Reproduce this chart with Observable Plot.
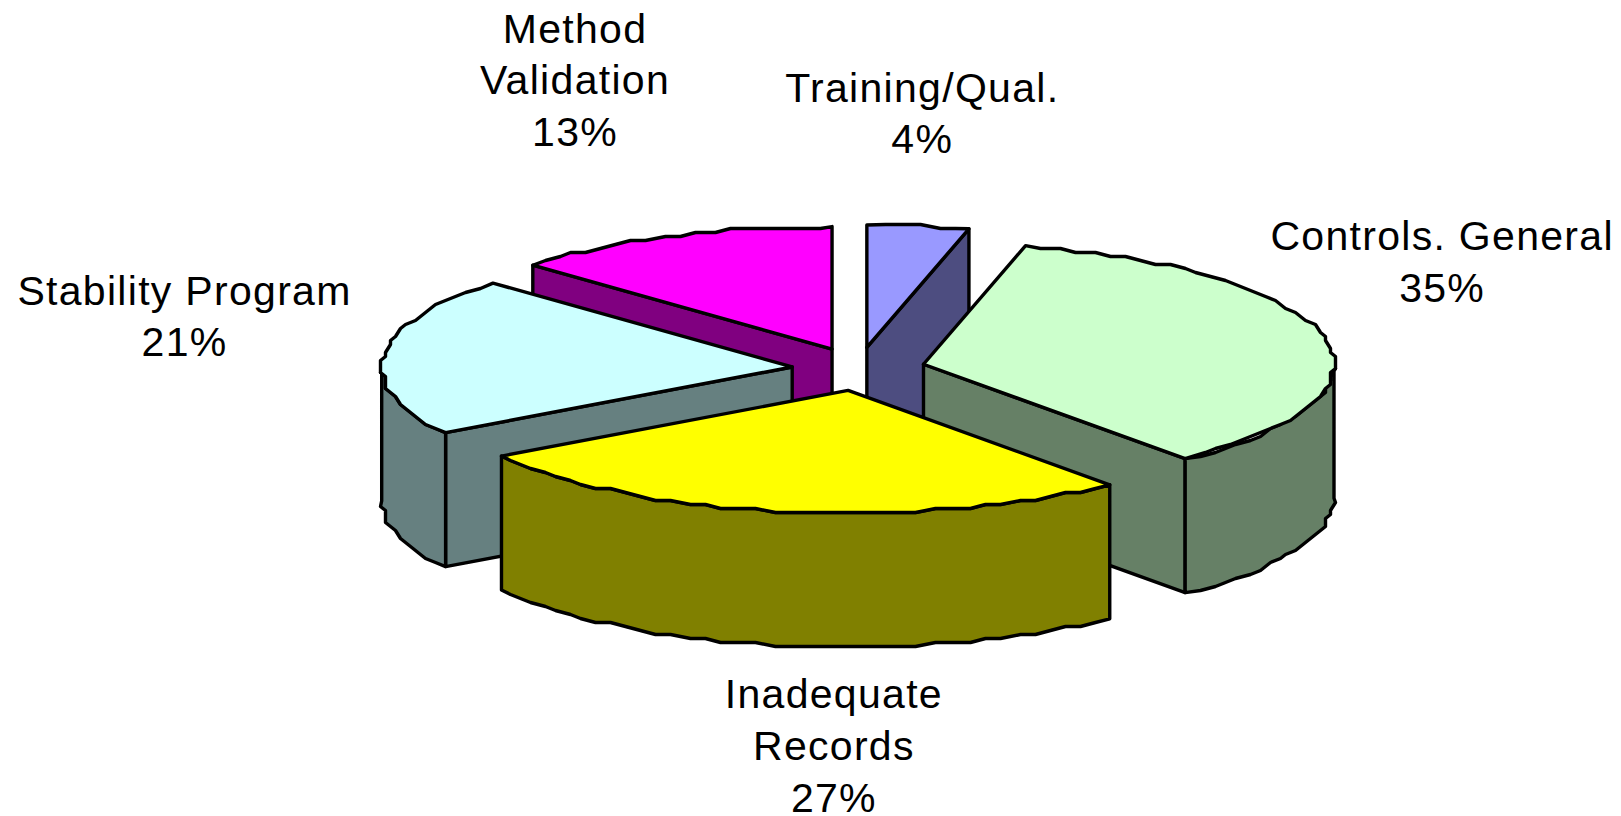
<!DOCTYPE html>
<html>
<head>
<meta charset="utf-8">
<style>
  html, body { margin: 0; padding: 0; background: #fff; }
  svg { display: block; }
  svg text { letter-spacing: 1.3px; }
</style>
<script src="https://cdn.jsdelivr.net/npm/d3@7"></script>
<script src="https://cdn.jsdelivr.net/npm/@observablehq/plot@0.6"></script>
</head>
<body>
<script>
// Audit findings by category, clockwise from twelve o'clock
const categories = ["Training/Qual.", "Controls. General", "Inadequate\nRecords", "Stability Program", "Method\nValidation"];
const shares = [4, 35, 27, 21, 13];
const topColors = ["#9999FF", "#CCFFCC", "#FFFF00", "#CCFFFF", "#FF00FF"];

// Label placement relative to the rim point at each slice's mid angle
const labelShiftX = [4, 118, 50, -199, -94];
const labelShiftY = [-115, -78, 232, -41.5, -159];

// Oblique pie layout, in pixels
const width = 1621, height = 816;
const center = {x: 858, y: 368.5};
const radius = {x: 410.5, y: 122.5};
const explode = {x: 66.6, y: 21.7};
const depth = 134;
const snap = {x: 5, y: 4};   // coarse output grid that gives the rim its faceted edge
const rimStep = 2.5;

const rad = d => d * Math.PI / 180;
const halve = c => { const r = d3.rgb(c); return d3.rgb(r.r / 2, r.g / 2, r.b / 2).formatHex(); };

let running = 0;
const slices = shares.map((share, i) => {
  const a0 = running * 3.6;
  running += share;
  const a1 = running * 3.6;
  const mid = (a0 + a1) / 2;
  return {
    i, a0, a1, mid,
    apex: {
      x: center.x + explode.x * Math.sin(rad(mid)),
      y: center.y - explode.y * Math.cos(rad(mid))
    }
  };
});

function rimPoint(s, angle, snapped) {
  const x = s.apex.x + radius.x * Math.sin(rad(angle));
  const y = s.apex.y - radius.y * Math.cos(rad(angle));
  return snapped
    ? {x: Math.round(x / snap.x) * snap.x, y: Math.round(y / snap.y) * snap.y}
    : {x, y};
}

function rimPath(s, from, to) {
  const pts = [rimPoint(s, from, false)];
  for (let a = from + rimStep; a < to - rimStep / 2; a += rimStep) {
    const p = rimPoint(s, a, true), q = pts[pts.length - 1];
    if (p.x !== q.x || p.y !== q.y) pts.push(p);
  }
  pts.push(rimPoint(s, to, false));
  return pts;
}

const drop = p => ({x: p.x, y: p.y + depth});
const rows = [];
let faceCount = 0;
const addFace = (pts, color) => {
  const face = faceCount++;
  [...pts, pts[0]].forEach(p => rows.push({x: p.x, y: p.y, face, color}));
};

// Painted back to front: cut walls, outer wall, then the top of each slice
[...slices].sort((a, b) => a.apex.y - b.apex.y).forEach(s => {
  const top = topColors[s.i], side = halve(top);
  const wall = angle => {
    const p = rimPoint(s, angle, false);
    addFace([s.apex, p, drop(p), drop(s.apex)], side);
  };
  if (Math.sin(rad(s.a0)) < -1e-6) wall(s.a0);
  if (Math.sin(rad(s.a1)) > 1e-6) wall(s.a1);
  const from = Math.max(s.a0, 90), to = Math.min(s.a1, 270);
  if (to > from) {
    const rim = rimPath(s, from, to);
    addFace([...rim, ...rim.map(drop).reverse()], side);
  }
  addFace([s.apex, ...rimPath(s, s.a0, s.a1)], top);
});

const labels = slices.map(s => {
  const p = rimPoint(s, s.mid, false);
  return {
    x: p.x + labelShiftX[s.i],
    y: p.y + labelShiftY[s.i],
    text: `${categories[s.i]}\n${shares[s.i]}%`
  };
});

const chart = Plot.plot({
  width, height,
  margin: 0,
  x: {domain: [0, width], range: [0, width], axis: null},
  y: {domain: [0, height], range: [0, height], axis: null},
  color: {type: "identity"},
  marks: [
    Plot.line(rows, {
      x: "x", y: "y", z: "face", fill: "color",
      stroke: "black", strokeWidth: 3.4, strokeLinejoin: "round"
    }),
    Plot.text(labels, {
      x: "x", y: "y", text: "text",
      fontFamily: "Liberation Sans", fontSize: 41, lineHeight: 1.26,
      fill: "black", textAnchor: "middle"
    })
  ]
});
document.body.appendChild(chart);
</script>
</body>
</html>
